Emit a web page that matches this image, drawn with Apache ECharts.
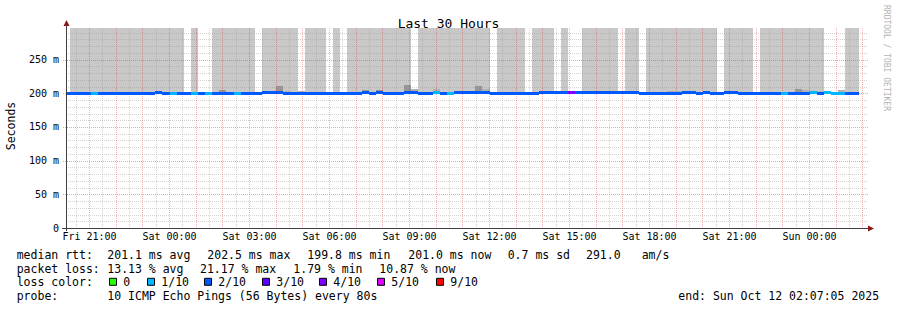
<!DOCTYPE html>
<html><head><meta charset="utf-8">
<script src="https://cdn.jsdelivr.net/npm/echarts@6/dist/echarts.min.js"></script>
<style>html,body{margin:0;padding:0;background:#fff}#c{width:897px;height:310px}</style>
</head><body><div id="c"></div>
<script>
// ---------- data (x = minutes since Fri 20:00) ----------
const graphStartMin = 7.0833;   // Fri 20:07:05
const graphEndMin = 1807.0833;  // Sun 02:07:05
const xTickValues = [60, 240, 420, 600, 780, 960, 1140, 1320, 1500, 1680];
const xTickLabels = ['Fri 21:00','Sat 00:00','Sat 03:00','Sat 06:00','Sat 09:00','Sat 12:00','Sat 15:00','Sat 18:00','Sat 21:00','Sun 00:00'];
const yTickValues = [0, 50, 100, 150, 200, 250];
const yTickLabels = ['0', '50 m', '100 m', '150 m', '200 m', '250 m'];
const yMax = 297;
const hourLines = [60,120,180,240,300,360,420,480,540,600,660,720,780,840,900,960,1020,1080,1140,1200,1260,1320,1380,1440,1500,1560,1620,1680,1740,1800];
const halfHourLines = [30,90,150,210,270,330,390,450,510,570,630,690,750,810,870,930,990,1050,1110,1170,1230,1290,1350,1410,1470,1530,1590,1650,1710,1770];
const yMajorLines = [50, 100, 150, 200, 250];
const yMinorLines = [10,20,30,40,60,70,80,90,110,120,130,140,160,170,180,190,210,220,230,240,260,270,280,290];

const slotMinutes = 16; // slot i covers [i*16, (i+1)*16) minutes
// median rtt per slot (ms)
const medianRtt = [
  200.3,200.3,200.3,200.3,200.3,200.3,200.3,200.3,200.3,200.3,
  200.3,200.3,200.3,201.0,200.3,200.3,200.3,200.3,200.3,200.3,
  200.3,200.3,200.3,200.3,200.3,200.3,200.3,200.3,201.8,201.8,
  201.8,200.3,200.3,200.3,200.3,200.3,200.3,200.3,200.3,200.3,
  200.3,200.3,201.0,200.3,201.0,200.3,200.3,200.3,201.0,201.0,
  200.3,200.3,201.0,200.3,200.3,201.0,201.0,201.0,201.0,201.0,
  200.3,200.3,200.3,200.3,200.3,200.3,200.3,201.8,201.8,201.8,
  201.8,201.8,201.8,201.8,201.8,201.8,201.8,201.8,201.8,201.8,
  201.8,200.3,200.3,200.3,200.3,200.3,200.3,201.8,201.8,200.3,
  201.8,200.3,200.3,201.8,201.8,200.3,200.3,200.3,200.3,200.3,
  200.3,200.3,200.3,200.3,200.3,201.0,200.3,201.0,200.3,200.3,
  200.3,200.3
];
// lost pings out of 10 per slot
const lossTenths = [
  2,2,2,2,1,2,2,2,2,2,
  2,2,2,2,2,1,2,2,1,2,
  1,2,2,2,1,2,2,2,2,2,
  2,2,2,2,2,2,2,2,2,2,
  2,2,2,2,2,2,2,2,2,2,
  2,2,1,2,1,2,2,2,2,2,
  2,2,2,2,2,2,2,2,2,2,
  2,4,2,2,2,2,2,2,2,2,
  2,2,2,2,2,2,2,2,2,2,
  2,2,2,2,2,2,2,2,2,2,
  2,1,2,2,2,1,2,1,1,1,
  2,2
];
// slot ranges [from, to) whose outer smoke reaches beyond the top of the graph
const fullSmokeRuns = [[1,17],[18,19],[21,27],[28,33],[34,37],[38,39],[40,49],[50,60],[61,65],[66,69],[70,71],[73,78],[79,81],[82,92],[93,97],[98,107],[110,112]];
const smokeBeyond = 300;
// [slot, top value ms] of inner smoke layers
const smokeMid = [[2,202.5],[7,202.5],[31,203.9],[33,203.6],[49,206.4],[52,206],[59,206],[85,203.5],[86,203.5],[104,205],[106,203.5],[109,204.5]];
const smokeCore = [[22,205],[30,211.3],[42,204.5],[44,204.5],[48,212.8],[58,210.9],[103,206.4]];

// legend texts
const rttLabel = 'median rtt:';
const rttStats = ['201.1 ms avg','202.5 ms max','199.8 ms min','201.0 ms now','0.7 ms sd','291.0','am/s'];
const lossLabel = 'packet loss:';
const lossStats = ['13.13 % avg','21.17 % max','1.79 % min','10.87 % now'];
const colorLabel = 'loss color:';
const lossLegendLabels = ['0','1/10','2/10','3/10','4/10','5/10','9/10'];
const lossLegendLevels = [0,1,2,3,4,5,9];
const probeLabel = 'probe:';
const probeText = '10 ICMP Echo Pings (56 Bytes) every 80s';
const endText = 'end: Sun Oct 12 02:07:05 2025';

// ---------- styles / layout ----------
const lossColors = {0:'#26ff00',1:'#00b8ff',2:'#0059ff',3:'#5e00ff',4:'#7e00ff',5:'#dd00ff',9:'#ff0000'};
const MONO = 'DejaVu Sans Mono';
const rttX = [107.3, 207.3, 307.3, 408.3, 507.7, 586, 641.7];
const lossX = [107.3, 200, 293.3, 379.3];
const boxX = [109, 147, 204, 262, 319, 377, 436];
const rowY = [254.5, 268.5, 282.3, 296.3];

const outerData = [];
fullSmokeRuns.forEach(([a, b]) => { for (let i = a; i < b; i++) outerData.push([i*slotMinutes, (i+1)*slotMinutes, medianRtt[i], smokeBeyond]); });
const midData = smokeMid.map(([i, v]) => [i*slotMinutes, (i+1)*slotMinutes, medianRtt[i], v]);
const coreData = smokeCore.map(([i, v]) => [i*slotMinutes, (i+1)*slotMinutes, medianRtt[i], v]);
const lineData = medianRtt.map((v, i) => [i*slotMinutes, (i+1)*slotMinutes, v, lossTenths[i]]);

function smokeRender(color) {
  return function (params, api) {
    const p0 = api.coord([api.value(0), api.value(2)]);
    const p1 = api.coord([api.value(1), api.value(3)]);
    const x0 = Math.round(p0[0]), x1 = Math.round(p1[0]);
    const yb = Math.round(p0[1]), yt = Math.round(p1[1]);
    return {type: 'rect', shape: {x: x0, y: yt, width: x1 - x0, height: yb - yt}, style: {fill: color}};
  };
}
function vGrid(color, extra) {
  return function (params, api) {
    const cs = params.coordSys;
    const x = Math.floor(api.coord([api.value(0), 0])[0]) + 0.5;
    return {type: 'line', shape: {x1: x, y1: cs.y, x2: x, y2: cs.y + cs.height + extra},
      style: {stroke: color, lineWidth: 1, lineDash: [1, 1]}};
  };
}
function hGrid(color, extraL, extraR) {
  return function (params, api) {
    const cs = params.coordSys;
    const y = Math.round(api.coord([graphStartMin, api.value(1)])[1]) + 0.5;
    return {type: 'line', shape: {x1: cs.x - extraL, y1: y, x2: cs.x + cs.width + extraR, y2: y},
      style: {stroke: color, lineWidth: 1, lineDash: [1, 1]}};
  };
}

const chart = echarts.init(document.getElementById('c'), null, {renderer: 'svg'});
const txt = (text, x, y, extra) => Object.assign({type: 'text', x: x, y: y, silent: true,
  style: Object.assign({text: text, fill: '#000', fontFamily: MONO, fontSize: 11.5, align: 'left', verticalAlign: 'middle'}, (extra || {}))});

const graphics = [];
graphics.push(txt(rttLabel, 16.7, rowY[0]));
rttStats.forEach((t, i) => graphics.push(txt(t, rttX[i], rowY[0])));
graphics.push(txt(lossLabel, 16.7, rowY[1]));
lossStats.forEach((t, i) => graphics.push(txt(t, lossX[i], rowY[1])));
graphics.push(txt(colorLabel, 16.7, rowY[2]));
lossLegendLabels.forEach((t, i) => {
  graphics.push({type: 'rect', silent: true, shape: {x: boxX[i] + 0.5, y: rowY[2] - 4, width: 7, height: 7},
    style: {fill: lossColors[lossLegendLevels[i]], stroke: '#000', lineWidth: 1}});
  graphics.push(txt(t, boxX[i] + 14.3, rowY[2]));
});
graphics.push(txt(probeLabel, 16.7, rowY[3]));
graphics.push(txt(probeText, 107.3, rowY[3]));
graphics.push(txt(endText, 678.3, rowY[3]));
graphics.push(txt('Seconds', 10.5, 126, {align: 'center'}));
graphics[graphics.length - 1].rotation = Math.PI / 2;
const wm = txt('RRDTOOL / TOBI OETIKER', 886.5, 5, {fontSize: 8, fill: '#b4b4b4'});
wm.rotation = -Math.PI / 2;
graphics.push(wm);
// axes
graphics.push({type: 'line', silent: true, z: 100, shape: {x1: 66.5, y1: 231, x2: 66.5, y2: 25}, style: {stroke: '#404040', lineWidth: 1}});
graphics.push({type: 'line', silent: true, z: 100, shape: {x1: 62, y1: 228.5, x2: 868, y2: 228.5}, style: {stroke: '#404040', lineWidth: 1}});
graphics.push({type: 'polygon', silent: true, z: 101, shape: {points: [[63.5, 26], [69.5, 26], [66.5, 20]]}, style: {fill: '#8b1a1a'}});
graphics.push({type: 'polygon', silent: true, z: 101, shape: {points: [[868, 225.5], [868, 231.5], [874, 228.5]]}, style: {fill: '#8b1a1a'}});

chart.setOption({
  animation: false,
  backgroundColor: '#ffffff',
  title: {text: 'Last 30 Hours', left: 'center', top: 12,
    textStyle: {fontFamily: MONO, fontSize: 13, fontWeight: 'normal', color: '#000'}},
  grid: {left: 66, top: 28, width: 800, height: 200, containLabel: false},
  xAxis: {type: 'value', min: graphStartMin, max: graphEndMin,
    axisLine: {show: false}, axisTick: {show: false}, splitLine: {show: false},
    axisLabel: {customValues: xTickValues, margin: 3, fontFamily: MONO, fontSize: 10, color: '#000',
      formatter: v => xTickLabels[xTickValues.indexOf(v)] || ''}},
  yAxis: {type: 'value', min: 0, max: yMax,
    axisLine: {show: false}, axisTick: {show: false}, splitLine: {show: false},
    axisLabel: {customValues: yTickValues, margin: 7, fontFamily: MONO, fontSize: 10, color: '#000',
      formatter: v => yTickLabels[yTickValues.indexOf(v)] || ''}},
  graphic: graphics,
  series: [
    {type: 'custom', name: 'smoke-outer', clip: true, z: 1, silent: true, data: outerData, renderItem: smokeRender('#c8c8c8')},
    {type: 'custom', name: 'smoke-mid', clip: true, z: 1, silent: true, data: midData, renderItem: smokeRender('#b0b0b0')},
    {type: 'custom', name: 'smoke-core', clip: true, z: 1, silent: true, data: coreData, renderItem: smokeRender('#969696')},
    {type: 'custom', name: 'grid-minor-v', clip: false, z: 2, silent: true, data: halfHourLines.map(v => [v, 0]), renderItem: vGrid('rgba(150,150,150,0.42)', 0)},
    {type: 'custom', name: 'grid-minor-h', clip: false, z: 2, silent: true, data: yMinorLines.map(v => [graphStartMin, v]), renderItem: hGrid('rgba(150,150,150,0.42)', 0, 2)},
    {type: 'custom', name: 'grid-major-v', clip: false, z: 2, silent: true, data: hourLines.map(v => [v, 0]), renderItem: vGrid('rgba(255,0,0,0.32)', 2)},
    {type: 'custom', name: 'grid-major-h', clip: false, z: 2, silent: true, data: yMajorLines.map(v => [graphStartMin, v]), renderItem: hGrid('rgba(160,80,80,0.45)', 3, 3)},
    {type: 'custom', name: 'median', clip: true, z: 3, silent: true, data: lineData,
      renderItem: function (params, api) {
        const p0 = api.coord([api.value(0), api.value(2)]);
        const p1 = api.coord([api.value(1), api.value(2)]);
        const x0 = Math.round(p0[0]), x1 = Math.round(p1[0]);
        const yt = Math.round(p0[1] - 1.5);
        return {type: 'rect', shape: {x: x0, y: yt, width: x1 - x0, height: 3}, style: {fill: lossColors[api.value(3)]}};
      }}
  ]
});
</script></body></html>
